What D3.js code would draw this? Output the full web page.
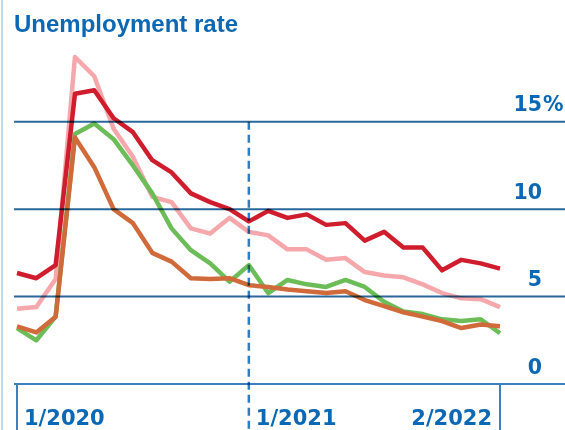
<!DOCTYPE html>
<html>
<head>
<meta charset="utf-8">
<script src="https://cdn.jsdelivr.net/npm/d3@7"></script>
<style>
  html, body { margin: 0; padding: 0; background: #ffffff; }
  svg { display: block; }
  .overlay { mix-blend-mode: multiply; }
</style>
</head>
<body>
<svg id="chart" width="565" height="430"></svg>
<script>
// Monthly unemployment rate, January 2020 – February 2022 (percent)
const months = d3.timeMonth.range(new Date(2020, 0, 1), new Date(2022, 2, 1));

const seriesRed = [6.35, 6.05, 6.8, 16.6, 16.8, 15.2, 14.4, 12.8, 12.1, 10.9, 10.4, 10.0,
                   9.3, 9.9, 9.5, 9.7, 9.1, 9.2, 8.2, 8.7, 7.8, 7.8, 6.5, 7.1, 6.9, 6.6];
const seriesPink = [4.3, 4.4, 6.0, 18.7, 17.6, 14.6, 13.0, 10.7, 10.4, 8.9, 8.6, 9.5,
                    8.7, 8.5, 7.7, 7.7, 7.1, 7.2, 6.4, 6.2, 6.1, 5.7, 5.2, 4.9, 4.85, 4.4];
const seriesGreen = [3.2, 2.5, 3.85, 14.3, 14.9, 14.0, 12.5, 10.9, 8.9, 7.65, 6.9, 5.85,
                     6.8, 5.2, 5.95, 5.7, 5.55, 5.95, 5.55, 4.7, 4.15, 4.0, 3.7, 3.6, 3.7, 2.9];
const seriesOrange = [3.3, 2.95, 3.85, 14.1, 12.4, 10.0, 9.2, 7.5, 7.0, 6.05, 6.0, 6.05,
                      5.65, 5.55, 5.4, 5.3, 5.2, 5.3, 4.8, 4.45, 4.1, 3.85, 3.6, 3.2, 3.4, 3.3];

const yTicks = [0, 5, 10, 15];
const xTickLabels = [
  { month: "2020-01", label: "1/2020" },
  { month: "2021-01", label: "1/2021" },
  { month: "2022-02", label: "2/2022" }
];

const blue = "#0b68b4";
const gridBlue = "#2a679b";
const axisBlue = "#3b7fc0";

const svg = d3.select("#chart");
const fmt = d3.timeFormat("%Y-%m");
const keys = months.map(fmt);

const x = d3.scalePoint().domain(keys).range([17, 500]);
const y = d3.scaleLinear().domain([0, 15]).range([384, 121.7]);

// thin frame line on the left edge
svg.append("line")
  .attr("x1", 2).attr("x2", 2).attr("y1", 0).attr("y2", 430)
  .attr("stroke", "#bcdaf0").attr("stroke-width", 2);

// title
svg.append("text")
  .attr("x", 14).attr("y", 32)
  .attr("fill", blue)
  .attr("font-family", "'Liberation Sans', Arial, sans-serif")
  .attr("font-weight", "bold")
  .attr("font-size", 24)
  .text("Unemployment rate");

// series lines
const line = d3.line()
  .x((d, i) => x(keys[i]))
  .y(d => y(d));

const series = [
  { values: seriesPink, color: "#f6a7ab" },
  { values: seriesGreen, color: "#6cbd58" },
  { values: seriesOrange, color: "#d06a3a" },
  { values: seriesRed, color: "#cf1d2d" }
];

svg.append("g").selectAll("path")
  .data(series)
  .join("path")
  .attr("d", d => line(d.values))
  .attr("fill", "none")
  .attr("stroke", d => d.color)
  .attr("stroke-width", 4.5)
  .attr("stroke-linejoin", "round")
  .attr("stroke-linecap", "butt");

// horizontal gridlines and the baseline, laid over the lines
const gridX0 = 14, gridX1 = 565;
svg.append("g").selectAll("line")
  .data(yTicks)
  .join("line")
  .attr("class", "overlay")
  .attr("x1", gridX0).attr("x2", gridX1)
  .attr("y1", d => y(d)).attr("y2", d => y(d))
  .attr("stroke", d => d === 0 ? axisBlue : gridBlue)
  .attr("stroke-width", 2);

// y tick labels, numbers right-aligned with the % sign hanging after
const labelFont = "'DejaVu Sans', Verdana, sans-serif";
const numRight = 542;
const yl = svg.append("g");
yl.selectAll("text.num")
  .data(yTicks)
  .join("text")
  .attr("class", "num")
  .attr("x", numRight)
  .attr("y", d => y(d) - 10.5)
  .attr("text-anchor", "end")
  .attr("fill", blue)
  .attr("font-family", labelFont)
  .attr("font-weight", "bold")
  .attr("font-size", 20.5)
  .text(d => d);
yl.append("text")
  .attr("x", numRight + 1)
  .attr("y", y(15) - 10.5)
  .attr("fill", blue)
  .attr("font-family", labelFont)
  .attr("font-weight", "bold")
  .attr("font-size", 20.5)
  .text("%");

// x axis: solid ticks at the ends, dashed marker at January 2021
const tickTop = y(0), tickBottom = 430;
[xTickLabels[0].month, xTickLabels[2].month].forEach(m => {
  svg.append("line")
    .attr("x1", x(m)).attr("x2", x(m))
    .attr("y1", tickTop - 1).attr("y2", tickBottom)
    .attr("stroke", axisBlue).attr("stroke-width", 2);
});
svg.append("line")
  .attr("class", "overlay")
  .attr("x1", x(xTickLabels[1].month)).attr("x2", x(xTickLabels[1].month))
  .attr("y1", y(15)).attr("y2", tickBottom)
  .attr("stroke", "#2f7cc4").attr("stroke-width", 2.5)
  .attr("stroke-dasharray", "8,5");

svg.append("g").selectAll("text")
  .data(xTickLabels)
  .join("text")
  .attr("x", (d, i) => i === 2 ? x(d.month) - 8 : x(d.month) + 7)
  .attr("y", 425)
  .attr("text-anchor", (d, i) => i === 2 ? "end" : "start")
  .attr("fill", blue)
  .attr("font-family", labelFont)
  .attr("font-weight", "bold")
  .attr("font-size", 21)
  .text(d => d.label);
</script>
</body>
</html>
